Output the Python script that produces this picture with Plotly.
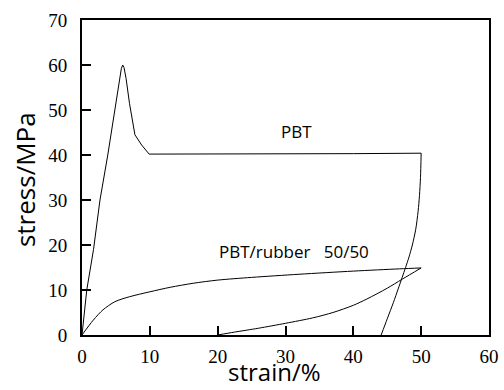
import plotly.graph_objects as go

# PBT: loading to yield peak, plateau, then unloading back to the axis
pbt_strain = [0, 0.7, 1.7, 2.65, 3.8, 4.85, 5.5, 5.8, 6.0, 6.2, 6.5, 7.0, 7.8, 8.8, 9.9,
              20, 30, 40, 50]
pbt_stress = [0, 10, 19, 30, 40, 50, 56.5, 59.2, 60, 59.4, 57, 51.5, 44.5, 42.2, 40.2,
              40.2, 40.2, 40.3, 40.4]
pbt_unload_strain = [50, 49.9, 49.75, 49.55, 49.2, 48.7, 48.2, 47.7, 47.2, 46.6, 45.9, 45.0, 44.1]
pbt_unload_stress = [40.4, 35, 31, 27.5, 23.5, 20, 17.3, 15, 12.8, 10.2, 7.2, 3.6, 0]

# PBT/rubber 50/50 blend
blend_strain = [0, 1.66, 3.1, 4.85, 7, 10, 13, 16.4, 20, 25, 32, 40, 46.8, 50]
blend_stress = [0, 3.3, 5.6, 7.4, 8.5, 9.6, 10.6, 11.5, 12.2, 12.8, 13.5, 14.2, 14.7, 14.9]
blend_unload_strain = [50, 47.2, 45, 42, 40, 37, 34, 30, 26, 22.5, 20]
blend_unload_stress = [14.9, 12.4, 10.4, 8.0, 6.6, 5.0, 3.8, 2.6, 1.5, 0.65, 0]

x_ticks = [0, 10, 20, 30, 40, 50, 60]
y_ticks = [0, 10, 20, 30, 40, 50, 60, 70]

line_style = dict(color="black", width=1)

fig = go.Figure()
fig.add_trace(go.Scatter(x=pbt_strain, y=pbt_stress, mode="lines", line=line_style,
                         showlegend=False, hoverinfo="skip"))
fig.add_trace(go.Scatter(x=blend_strain, y=blend_stress, mode="lines",
                         line=dict(shape="spline", smoothing=0.8, **line_style),
                         showlegend=False, hoverinfo="skip"))
for xs, ys in [(pbt_unload_strain, pbt_unload_stress),
               (blend_unload_strain, blend_unload_stress)]:
    fig.add_trace(go.Scatter(x=xs, y=ys, mode="lines",
                             line=dict(shape="spline", smoothing=0.8, **line_style),
                             showlegend=False, hoverinfo="skip"))

tick_font = dict(family="Liberation Serif", size=19, color="black")

axis_common = dict(
    showgrid=False, zeroline=False, showline=True, linecolor="black", linewidth=2,
    mirror=True, ticks="inside", ticklen=9, tickwidth=1.5, tickcolor="black",
    tickfont=tick_font, automargin=False,
)

fig.update_xaxes(range=[0, 60], tickvals=x_ticks, ticklabelstandoff=3, **axis_common)
fig.update_yaxes(range=[0, 70], tickvals=y_ticks, ticklabelstandoff=9, **axis_common)

sans = dict(family="Open Sans", color="black")
fig.add_annotation(x=31.6, y=45.3, xref="x", yref="y", text="PBT", showarrow=False,
                   font=dict(size=17, **sans))
fig.add_annotation(x=31.3, y=18.6, xref="x", yref="y",
                   text="PBT/rubber\u00a0\u00a0 50/50", showarrow=False,
                   font=dict(size=17, **sans))
fig.add_annotation(x=0.474, y=-0.1746, xref="paper", yref="paper", text="strain/%",
                   showarrow=False, xanchor="center", yanchor="bottom",
                   font=dict(size=24, **sans))
fig.add_annotation(x=-0.14, y=0.492, xref="paper", yref="paper", text="stress/MPa",
                   showarrow=False, xanchor="center", yanchor="middle", textangle=-90,
                   font=dict(size=26, **sans))

fig.update_layout(
    width=504, height=390,
    margin=dict(l=82, r=15, t=20, b=55),
    plot_bgcolor="white", paper_bgcolor="white",
)

fig.write_html("out.html")
